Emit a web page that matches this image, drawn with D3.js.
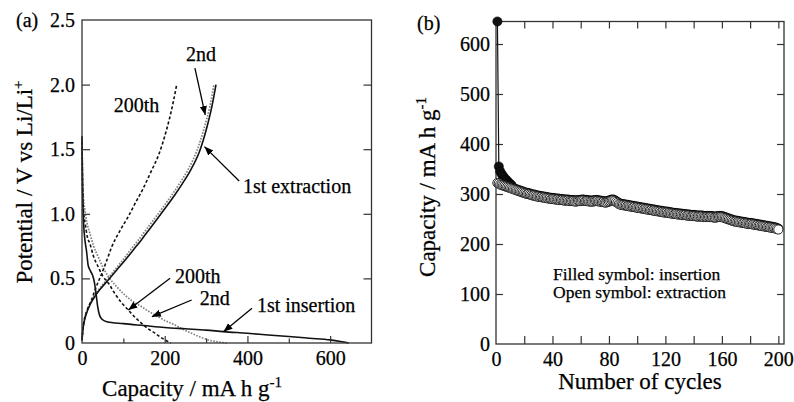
<!DOCTYPE html>
<html><head><meta charset="utf-8">
<script src="https://cdn.jsdelivr.net/npm/d3@7"></script>
<style>
html,body{margin:0;padding:0;background:#fff;}
svg{display:block;font-family:"Liberation Serif","Times New Roman",serif;}
svg text{stroke:#000;stroke-width:0.25;}
</style></head>
<body>
<svg id="c" width="794" height="402"></svg>
<script>
// ---------- Panel (a) data: [capacity mA h/g, potential V] ----------
const ins1st = [[0,1.58],[1,1.3],[2,1.1],[4,0.92],[7,0.8],[11,0.71],[15,0.6],[20,0.56],[26,0.52],[30,0.47],[34,0.38],[38,0.28],[43,0.21],[50,0.18],[60,0.165],[100,0.15],[150,0.135],[200,0.12],[250,0.11],[300,0.1],[342,0.088],[400,0.075],[450,0.062],[500,0.05],[550,0.037],[600,0.024],[625,0.012],[645,0.0]];
const ext1st = [[0,0.02],[2,0.1],[5,0.16],[11,0.23],[20,0.3],[31,0.36],[45,0.42],[64,0.49],[84,0.565],[104,0.64],[124,0.72],[144,0.8],[164,0.885],[184,0.97],[205,1.06],[223,1.14],[242,1.23],[263,1.34],[285,1.49],[302,1.67],[314,1.83],[324,2.0]];
const ins2nd = [[0,1.6],[1,1.35],[3,1.15],[7,1.03],[12,0.93],[19,0.85],[28,0.75],[39,0.668],[50,0.59],[64,0.513],[84,0.435],[104,0.37],[124,0.32],[144,0.281],[160,0.248],[177,0.217],[200,0.175],[225,0.139],[245,0.105],[265,0.075],[285,0.047],[306,0.023],[330,0.008],[350,0.0]];
const ext2nd = [[0,0.02],[2,0.1],[5,0.17],[10,0.23],[19,0.3],[29,0.36],[42,0.42],[60,0.49],[79,0.565],[98,0.64],[117,0.72],[137,0.8],[157,0.885],[177,0.97],[198,1.06],[216,1.14],[235,1.23],[256,1.34],[278,1.49],[296,1.67],[309,1.83],[319,2.0]];
const ins200 = [[0,1.6],[1,1.3],[3,1.05],[8,0.92],[13,0.82],[19,0.77],[28,0.67],[39,0.59],[50,0.52],[64,0.462],[80,0.38],[96,0.31],[112,0.255],[128,0.2],[144,0.152],[160,0.11],[177,0.075],[190,0.045],[201,0.023],[215,0.0]];
const ext200 = [[0,0.02],[2,0.1],[5,0.17],[12,0.25],[23,0.333],[35,0.44],[48,0.54],[60,0.64],[72,0.745],[92,0.87],[112,0.98],[130,1.09],[147,1.19],[166,1.32],[187,1.47],[200,1.6],[211,1.73],[221,1.87],[229,2.0]];

const aXTicks = [0,200,400,600];
const aXMinor = [100,300,500];
const aYTicks = [0,0.5,1.0,1.5,2.0,2.5];

// annotations in data units: label, text x, text y, anchor, arrow from, arrow to
const aNotes = [
  {t:"2nd", x:288, y:2.18, a:"middle", from:[273,2.128], to:[298,1.765]},
  {t:"200th", x:132, y:1.79, a:"middle", from:null, to:null},
  {t:"1st extraction", x:389, y:1.161, a:"start", from:[380,1.254], to:[296,1.52]},
  {t:"200th", x:225, y:0.464, a:"start", from:[213,0.501], to:[112,0.255]},
  {t:"2nd", x:285, y:0.294, a:"start", from:[265,0.333], to:[169,0.204]},
  {t:"1st insertion", x:423, y:0.242, a:"start", from:[411,0.269], to:[342,0.088]}
];

// ---------- Panel (b) data: capacity per cycle ----------
const cycles = d3.range(1,201);
const insertion = [645,355,345,340,336,332,329,326,323,320,
318,312,311,310,309,308,307,306,305,304,
303,302,302,301,300,299,299,298,297,297,
296,296,295,295,294,294,293,293,292,292,
292,291,291,291,290,290,290,289,289,289,
289,288,288,288,288,287,287,288,288,288,
289,289,288,288,288,287,287,287,287,288,
288,288,287,287,286,286,285,285,286,287,
288,289,289,288,286,284,282,281,280,280,
279,279,278,278,277,277,276,276,275,275,
274,274,273,273,272,272,271,271,270,270,
269,269,268,268,267,267,266,266,265,265,
265,264,264,263,263,262,262,262,261,261,
261,260,260,260,259,259,259,258,258,258,
258,257,257,257,257,257,256,256,256,256,
256,256,256,255,255,255,256,256,256,256,
255,254,253,252,251,250,249,248,247,247,
246,246,245,245,244,244,243,243,242,242,
242,241,241,240,240,239,239,238,238,237,
237,236,236,235,235,234,234,233,232,231];
const extraction = [322,321,319,318,317,316,315,314,313,312,
311,310,309,308,307,306,305,304,303,302,
301,300,300,299,298,297,297,296,295,295,
294,294,293,293,292,292,291,291,290,290,
290,289,289,289,288,288,288,287,287,287,
287,286,286,286,286,285,285,286,286,286,
287,287,286,286,286,285,285,285,285,286,
286,286,285,285,284,284,283,283,284,285,
286,287,287,286,284,282,280,279,278,278,
277,277,276,276,275,275,274,274,273,273,
272,272,271,271,270,270,269,269,268,268,
267,267,266,266,265,265,264,264,263,263,
263,262,262,261,261,260,260,260,259,259,
259,258,258,258,257,257,257,256,256,256,
256,255,255,255,255,255,254,254,254,254,
254,254,254,253,253,253,254,254,254,254,
253,252,251,250,249,248,247,246,245,245,
244,244,243,243,242,242,241,241,240,240,
240,239,239,238,238,237,237,236,236,235,
235,234,234,233,233,232,232,231,230,229];
const bXTicks = [0,40,80,120,160,200];
const bXAll = [20,40,60,80,100,120,140,160,180,200];
const bYTicks = [0,100,200,300,400,500,600];

const svg = d3.select("#c");
const FONT_T = 20, FONT_TITLE = 23;

// ---------------- Panel (a) ----------------
const ax = d3.scaleLinear().domain([0,700]).range([82,371.5]);
const ay = d3.scaleLinear().domain([0,2.5]).range([343,20]);
const gA = svg.append("g");

const lineA = d3.line().x(d=>ax(d[0])).y(d=>ay(d[1])).curve(d3.curveMonotoneX);
function curve(data, opts){
  gA.append("path").datum(data).attr("d",lineA).attr("fill","none")
    .attr("stroke",opts.c).attr("stroke-width",opts.w)
    .attr("stroke-dasharray",opts.dash||null);
}
curve(ins2nd,{c:"#808080",w:1.7,dash:"1.6,1.4"});
curve(ext2nd,{c:"#808080",w:1.7,dash:"1.6,1.4"});
curve(ins200,{c:"#111",w:1.6,dash:"3,2.2"});
curve(ext200,{c:"#111",w:1.6,dash:"3,2.2"});
curve(ins1st,{c:"#111",w:1.6});
curve(ext1st,{c:"#111",w:1.6});

// axes
function styleAxis(g){
  g.select(".domain").remove();
  g.selectAll(".tick line").attr("stroke","#333").attr("stroke-width",1.2);
  g.selectAll(".tick text").attr("fill","#000").attr("font-size",FONT_T)
    .attr("font-family","Liberation Serif, Times New Roman, serif");
}
gA.append("g").attr("transform","translate(0,343)")
  .call(d3.axisBottom(ax).tickValues(aXTicks).tickSize(-7).tickPadding(8).tickFormat(d3.format("d")))
  .call(styleAxis).call(g=>g.selectAll(".tick line").filter(d=>d===0).remove());
gA.append("g").attr("transform","translate(0,343)")
  .call(d3.axisBottom(ax).tickValues(aXMinor).tickSize(-4.5).tickFormat(""))
  .call(styleAxis);
gA.append("g").attr("transform","translate(82,0)")
  .call(d3.axisLeft(ay).tickValues(aYTicks).tickSize(-8).tickPadding(7)
    .tickFormat(d=>d===0?"0":d3.format(".1f")(d)))
  .call(styleAxis).call(g=>g.selectAll(".tick line").filter(d=>d===0||d===2.5).remove());
gA.append("g").attr("transform","translate(371.5,0)")
  .call(d3.axisRight(ay).tickValues(aYTicks.slice(1,5)).tickSize(-8).tickFormat(""))
  .call(styleAxis);
gA.append("rect").attr("x",82).attr("y",20).attr("width",371.5-82).attr("height",343-20)
  .attr("fill","none").attr("stroke","#333").attr("stroke-width",1.3);

// annotations
svg.append("defs").append("marker").attr("id","ah").attr("viewBox","0 0 10 10")
  .attr("refX",10).attr("refY",5).attr("markerWidth",9).attr("markerHeight",9)
  .attr("markerUnits","userSpaceOnUse").attr("orient","auto")
  .append("path").attr("d","M0,1 L10,5 L0,9 Z").attr("fill","#000");
aNotes.forEach(n=>{
  gA.append("text").attr("x",ax(n.x)).attr("y",ay(n.y)).attr("text-anchor",n.a)
    .attr("font-size",20).text(n.t);
  if(n.from){
    gA.append("line").attr("x1",ax(n.from[0])).attr("y1",ay(n.from[1]))
      .attr("x2",ax(n.to[0])).attr("y2",ay(n.to[1])).attr("stroke","#000")
      .attr("stroke-width",1.3).attr("marker-end","url(#ah)");
  }
});

// titles
svg.append("text").attr("x",16).attr("y",27).attr("font-size",20).text("(a)");
const tA = svg.append("text").attr("text-anchor","middle").attr("font-size",FONT_TITLE)
  .attr("x",192).attr("y",396);
tA.append("tspan").text("Capacity / mA h g");
tA.append("tspan").attr("font-size",15).attr("dy",-9).text("-1");
const tAy = svg.append("text").attr("text-anchor","middle").attr("font-size",FONT_TITLE)
  .attr("transform","translate(32,182) rotate(-90)");
tAy.append("tspan").text("Potential / V vs Li/Li");
tAy.append("tspan").attr("font-size",15).attr("dy",-9).text("+");

// ---------------- Panel (b) ----------------
const bx = d3.scaleLinear().domain([0,204]).range([496,784]);
const by = d3.scaleLinear().domain([0,645]).range([344,21.5]);
const gB = svg.append("g");

gB.append("g").attr("transform","translate(0,344)")
  .call(d3.axisBottom(bx).tickValues(bXTicks).tickSize(0).tickPadding(8).tickFormat(d3.format("d")))
  .call(styleAxis);
gB.append("g").attr("transform","translate(0,344)")
  .call(d3.axisBottom(bx).tickValues(bXAll).tickSize(-8).tickFormat(""))
  .call(styleAxis);
gB.append("g").attr("transform","translate(0,21.5)")
  .call(d3.axisTop(bx).tickValues(bXAll).tickSize(-7).tickFormat(""))
  .call(styleAxis);
gB.append("g").attr("transform","translate(496,0)")
  .call(d3.axisLeft(by).tickValues(bYTicks).tickSize(-7).tickPadding(6).tickFormat(d3.format("d")))
  .call(styleAxis).call(g=>g.selectAll(".tick line").filter(d=>d===0).remove());
gB.append("g").attr("transform","translate(784,0)")
  .call(d3.axisRight(by).tickValues(bYTicks.slice(1)).tickSize(-7).tickFormat(""))
  .call(styleAxis);
gB.append("rect").attr("x",496).attr("y",21.5).attr("width",784-496).attr("height",344-21.5)
  .attr("fill","none").attr("stroke","#333").attr("stroke-width",1.3);

const insData = cycles.map((c,i)=>[c,insertion[i]]);
const extData = cycles.map((c,i)=>[c,extraction[i]]);
const lineB = d3.line().x(d=>bx(d[0])).y(d=>by(d[1]));
gB.append("path").datum(insData).attr("d",lineB).attr("fill","none").attr("stroke","#111").attr("stroke-width",1.2);
gB.selectAll("circle.ins").data(insData).join("circle").attr("class","ins")
  .attr("cx",d=>bx(d[0])).attr("cy",d=>by(d[1])).attr("r",4.6)
  .attr("fill","#111").attr("stroke","#000").attr("stroke-width",0.6);
gB.selectAll("circle.ext").data(extData).join("circle").attr("class","ext")
  .attr("cx",d=>bx(d[0])).attr("cy",d=>by(d[1])).attr("r",4.6)
  .attr("fill","#fff").attr("stroke","#222").attr("stroke-width",1);

svg.append("text").attr("x",640).attr("y",389).attr("text-anchor","middle").attr("font-size",FONT_TITLE).text("Number of cycles");
svg.append("text").attr("x",417).attr("y",30).attr("font-size",20).text("(b)");
svg.append("text").attr("x",553).attr("y",280).attr("font-size",17.5).text("Filled symbol: insertion");
svg.append("text").attr("x",553).attr("y",297.5).attr("font-size",17.5).text("Open symbol: extraction");
const tBy = svg.append("text").attr("text-anchor","middle").attr("font-size",FONT_TITLE)
  .attr("transform","translate(435,187) rotate(-90)");
tBy.append("tspan").text("Capacity / mA h g");
tBy.append("tspan").attr("font-size",15).attr("dy",-9).text("-1");
</script>
</body></html>
